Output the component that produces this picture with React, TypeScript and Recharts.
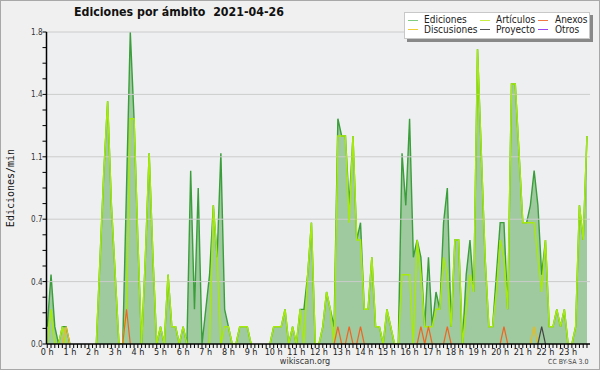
import React from 'react';
import { ComposedChart, Area, Line, XAxis, YAxis, CartesianGrid, ReferenceLine } from 'recharts';

// 10-minute slots of the day (0 = 00:00 ... 143 = 23:50), values in edits per minute
const ediciones = [
  0.1, 0.4, 0.1, 0, 0.1, 0.1, 0, 0, 0, 0, 0, 0,
  0, 0, 0.5, 1.0, 1.4, 0.8, 0.4, 0, 0, 0.9, 1.8, 1.3,
  0.6, 0, 0.5, 1.1, 0.5, 0, 0.1, 0, 0.4, 0.1, 0.1, 0,
  0.1, 0, 1.0, 0.2, 0.9, 0, 0.2, 0.4, 0.8, 0.5, 1.1, 0.2,
  0.1, 0, 0, 0.1, 0.1, 0.1, 0, 0, 0, 0, 0, 0,
  0.1, 0.1, 0.1, 0.2, 0, 0.1, 0, 0.2, 0.2, 0.4, 0.7, 0,
  0, 0.1, 0.3, 0.2, 0.1, 1.3, 1.2, 1.2, 0.8, 1.2, 0.6, 0.7,
  0.2, 0.2, 0.5, 0.1, 0.1, 0, 0.2, 0.1, 0, 0, 1.1, 0.8,
  1.3, 0.5, 0.6, 0.5, 0.1, 0.5, 0.1, 0.3, 0.2, 0.7, 0.9, 0.1,
  0.6, 0.6, 0, 0.4, 0.6, 0.3, 1.7, 1.1, 0.5, 0.1, 0.1, 0.4,
  0.7, 0.7, 0.2, 1.5, 1.5, 1.1, 0.7, 0.7, 0.8, 1.0, 0.8, 0.4,
  0.6, 0.1, 0.1, 0.2, 0.1, 0.2, 0, 0, 0.1, 0.8, 0.6, 1.2,
];
const articulos = [
  0, 0.2, 0, 0, 0.1, 0, 0, 0, 0, 0, 0, 0,
  0, 0, 0.5, 1.0, 1.4, 0.8, 0.4, 0, 0, 0.2, 1.3, 1.3,
  0.6, 0, 0.5, 1.1, 0.5, 0, 0.1, 0, 0.4, 0.1, 0.1, 0,
  0.1, 0, 0, 0, 0, 0, 0, 0, 0.8, 0.5, 0, 0.1,
  0.1, 0, 0, 0.1, 0.1, 0.1, 0, 0, 0, 0, 0, 0,
  0.1, 0.1, 0.1, 0.2, 0, 0.1, 0, 0.2, 0, 0.4, 0.7, 0,
  0, 0.1, 0.3, 0.2, 0, 1.2, 1.2, 1.2, 0.7, 1.2, 0.6, 0.6,
  0.2, 0.2, 0.5, 0.1, 0.1, 0, 0.2, 0.1, 0, 0, 0.4, 0.4,
  0.4, 0, 0.6, 0.4, 0.1, 0.1, 0.1, 0.2, 0.2, 0.5, 0.4, 0.1,
  0.6, 0.6, 0, 0.2, 0.4, 0.3, 1.7, 1.1, 0.5, 0.1, 0.1, 0.3,
  0.6, 0.5, 0.2, 1.5, 1.5, 1.1, 0.7, 0.7, 0.7, 0.7, 0.5, 0.3,
  0.6, 0.1, 0.1, 0.2, 0.1, 0.2, 0, 0, 0.1, 0.8, 0.6, 1.2,
];
const anexos = [
  0, 0, 0, 0, 0, 0, 0, 0, 0, 0, 0, 0,
  0, 0, 0, 0, 0, 0, 0, 0, 0, 0.2, 0, 0,
  0, 0, 0, 0, 0, 0, 0, 0, 0, 0, 0, 0,
  0, 0, 0, 0, 0, 0, 0, 0, 0, 0, 0, 0,
  0, 0, 0, 0, 0, 0, 0, 0, 0, 0, 0, 0,
  0, 0, 0, 0, 0, 0, 0, 0, 0, 0, 0, 0,
  0, 0, 0, 0, 0, 0.1, 0, 0, 0.1, 0, 0, 0.1,
  0, 0, 0, 0, 0, 0, 0, 0, 0, 0, 0, 0,
  0, 0, 0, 0.1, 0, 0.1, 0, 0, 0, 0, 0.1, 0,
  0, 0, 0, 0, 0, 0, 0, 0, 0, 0, 0, 0,
  0, 0.1, 0, 0, 0, 0, 0, 0, 0, 0, 0, 0,
  0, 0, 0, 0, 0, 0, 0, 0, 0, 0, 0, 0,
];
const discusiones = [
  0, 0, 0, 0, 0, 0.1, 0, 0, 0, 0, 0, 0,
  0, 0, 0, 0, 0, 0, 0, 0, 0, 0, 0, 0,
  0, 0, 0, 0, 0, 0, 0, 0, 0, 0, 0, 0,
  0, 0, 0, 0, 0, 0, 0, 0, 0, 0, 0, 0,
  0, 0, 0, 0, 0, 0, 0, 0, 0, 0, 0, 0,
  0, 0, 0, 0, 0, 0, 0, 0, 0, 0, 0, 0,
  0, 0, 0, 0, 0, 0, 0, 0, 0, 0, 0, 0,
  0, 0, 0, 0, 0, 0, 0, 0, 0, 0, 0, 0,
  0, 0, 0, 0, 0, 0, 0, 0, 0, 0, 0, 0,
  0, 0, 0, 0, 0, 0, 0, 0, 0, 0, 0, 0,
  0, 0, 0, 0, 0, 0, 0, 0, 0, 0.1, 0, 0,
  0, 0, 0, 0, 0, 0, 0, 0, 0, 0, 0, 0,
];
const proyecto = [
  0, 0, 0, 0, 0, 0, 0, 0, 0, 0, 0, 0,
  0, 0, 0, 0, 0, 0, 0, 0, 0, 0, 0, 0,
  0, 0, 0, 0, 0, 0, 0, 0, 0, 0, 0, 0,
  0, 0, 0, 0, 0, 0, 0, 0, 0, 0, 0, 0,
  0, 0, 0, 0, 0, 0, 0, 0, 0, 0, 0, 0,
  0, 0, 0, 0, 0, 0, 0, 0, 0, 0, 0, 0,
  0, 0, 0, 0, 0, 0, 0, 0, 0, 0, 0, 0,
  0, 0, 0, 0, 0, 0, 0, 0, 0, 0, 0, 0,
  0, 0, 0, 0, 0, 0, 0, 0, 0, 0, 0, 0,
  0, 0, 0, 0, 0, 0, 0, 0, 0, 0, 0, 0,
  0, 0, 0, 0, 0, 0, 0, 0, 0, 0, 0, 0.1,
  0, 0, 0, 0, 0, 0, 0, 0, 0, 0, 0, 0,
];
const otros: number[] = ediciones.map(() => 0);

const hourLabels = [
  '0 h', '1 h', '2 h', '3 h', '4 h', '5 h', '6 h', '7 h', '8 h', '9 h', '10 h', '11 h',
  '12 h', '13 h', '14 h', '15 h', '16 h', '17 h', '18 h', '19 h', '20 h', '21 h', '22 h', '23 h',
];
const yMajorTicks = [0, 0.36, 0.72, 1.08, 1.44, 1.8];
const yTickLabels = ['0.0', '0.4', '0.7', '1.1', '1.4', '1.8'];

const title = 'Ediciones por ámbito  2021-04-26';
const yLabel = 'Ediciones/min';

const legendItems = [
  { name: 'Ediciones', color: '#7fcb7f', col: 0, row: 0 },
  { name: 'Artículos', color: '#c8ee44', col: 1, row: 0 },
  { name: 'Anexos', color: '#ee7744', col: 2, row: 0 },
  { name: 'Discusiones', color: '#eecc33', col: 0, row: 1 },
  { name: 'Proyecto', color: '#555555', col: 1, row: 1 },
  { name: 'Otros', color: '#9944ee', col: 2, row: 1 },
];

// hide long runs of zeros so flat zero segments don't paint over the baseline
const mask = (arr: number[]) =>
  arr.map((v, i) =>
    v === 0 && (i === 0 || arr[i - 1] === 0) && (i === arr.length - 1 || arr[i + 1] === 0) ? null : v
  );

const mE = mask(ediciones);
const mA = mask(articulos);
const mAn = mask(anexos);
const mD = mask(discusiones);
const mP = mask(proyecto);
const mO = mask(otros);

const data = ediciones.map((_, i) => ({
  slot: i,
  e: mE[i],
  a: mA[i],
  an: mAn[i],
  d: mD[i],
  p: mP[i],
  o: mO[i],
}));

const xTicks = data.map((d) => d.slot);

const yTicks: number[] = [];
for (let k = 0; k < yMajorTicks.length - 1; k++) {
  const a = yMajorTicks[k];
  const b = yMajorTicks[k + 1];
  for (let j = 0; j < 4; j++) yTicks.push(+(a + ((b - a) * j) / 4).toFixed(4));
}
yTicks.push(yMajorTicks[yMajorTicks.length - 1]);

const XTick = (props: any) => {
  const { x, y, payload } = props;
  const v = payload.value;
  if (v % 6 !== 0) return <g />;
  return (
    <text x={x} y={y + 7} textAnchor="middle" fontSize={9} fill="#222" fontFamily="DejaVu Sans Condensed, DejaVu Sans, sans-serif">
      {hourLabels[v / 6]}
    </text>
  );
};

const YTick = (props: any) => {
  const { x, y, index } = props;
  if (index % 4 !== 0) return <g />;
  return (
    <text x={x} y={y + 3} textAnchor="end" fontSize={8} fill="#333" fontFamily="DejaVu Sans Condensed, DejaVu Sans, sans-serif">
      {yTickLabels[index / 4]}
    </text>
  );
};

export default function App() {
  return (
    <div style={{ position: 'absolute', left: 0, top: 0, width: 600, height: 370, background: '#f0f0f0', overflow: 'hidden' }}>
      <ComposedChart width={600} height={370} data={data} margin={{ top: 32, right: 10, bottom: 0, left: 0 }}>
        <CartesianGrid fill="#edeff1" horizontal={false} vertical={false} stroke="none" />
        {yMajorTicks.slice(1).map((t) => (
          <ReferenceLine key={t} y={t} stroke="#cccccc" strokeWidth={1} ifOverflow="extendDomain" />
        ))}
        <Area type="linear" dataKey="e" stroke="#3a9e3a" strokeWidth={1.4} fill="#9fc99f" fillOpacity={1} dot={false} activeDot={false} isAnimationActive={false} />
        <Line type="linear" dataKey="a" stroke="#a6ea0a" strokeWidth={1.5} dot={false} activeDot={false} isAnimationActive={false} />
        <Line type="linear" dataKey="d" stroke="#eebb11" strokeWidth={1.2} dot={false} activeDot={false} isAnimationActive={false} />
        <Line type="linear" dataKey="p" stroke="#444444" strokeWidth={1.2} dot={false} activeDot={false} isAnimationActive={false} />
        <Line type="linear" dataKey="an" stroke="#ee6622" strokeWidth={1.2} dot={false} activeDot={false} isAnimationActive={false} />
        <Line type="linear" dataKey="o" stroke="#9944ee" strokeWidth={1.2} dot={false} activeDot={false} isAnimationActive={false} />
        <XAxis
          dataKey="slot"
          type="number"
          domain={[-0.2, 143.8]}
          ticks={xTicks}
          interval={0}
          height={26}
          tickSize={4}
          tickMargin={0}
          axisLine={{ stroke: '#000', strokeWidth: 1.5 }}
          tickLine={{ stroke: '#000' }}
          tick={<XTick />}
          allowDataOverflow
        />
        <YAxis
          type="number"
          domain={[0, 1.8]}
          ticks={yTicks}
          interval={0}
          width={46.5}
          tickSize={4}
          tickMargin={0}
          axisLine={{ stroke: '#000', strokeWidth: 1.5 }}
          tickLine={{ stroke: '#000' }}
          tick={<YTick />}
          allowDataOverflow
        />
      </ComposedChart>

      <div style={{ position: 'absolute', left: 74, top: 5, fontFamily: 'DejaVu Sans Condensed, DejaVu Sans, sans-serif', fontWeight: 'bold', fontSize: 12.3, color: '#111', whiteSpace: 'pre' }}>
        {title}
      </div>

      <div style={{ position: 'absolute', left: 3, top: 188, width: 0, height: 0 }}>
        <div style={{ position: 'absolute', transform: 'translate(-50%, -50%) rotate(-90deg)', left: 7, top: 0, fontFamily: 'DejaVu Sans Mono, monospace', fontSize: 10, color: '#111', whiteSpace: 'nowrap' }}>
          {yLabel}
        </div>
      </div>

      <div style={{ position: 'absolute', left: 407, top: 15, width: 186, height: 27, background: '#888' }} />
      <div style={{ position: 'absolute', left: 404, top: 12, width: 186, height: 27, background: '#fff', border: '1px solid #c8c8c8', boxSizing: 'border-box' }} />
      {legendItems.map((it) => {
        const colX = [408, 480, 538][it.col];
        const textX = [424, 496, 555][it.col];
        const rowY = [20, 29][it.row];
        const textTop = [15, 25][it.row];
        return (
          <React.Fragment key={it.name}>
            <div style={{ position: 'absolute', left: colX, top: rowY, width: 10, height: 1, background: it.color }} />
            <div style={{ position: 'absolute', left: textX, top: textTop, fontFamily: 'DejaVu Sans Condensed, DejaVu Sans, sans-serif', fontSize: 10, lineHeight: '9px', height: 9, color: '#222', whiteSpace: 'nowrap' }}>
              {it.name}
            </div>
          </React.Fragment>
        );
      })}

      <div style={{ position: 'absolute', left: 305, top: 356, transform: 'translateX(-50%)', fontFamily: 'DejaVu Sans Condensed, DejaVu Sans, sans-serif', fontSize: 9, lineHeight: '11px', color: '#333' }}>
        wikiscan.org
      </div>
      <div style={{ position: 'absolute', left: 548, top: 358, fontFamily: 'DejaVu Sans Condensed, DejaVu Sans, sans-serif', fontSize: 7, lineHeight: '9px', color: '#444', whiteSpace: 'nowrap' }}>
        CC BY-SA 3.0
      </div>
      <div style={{ position: 'absolute', left: 0, top: 0, width: 600, height: 370, border: '1px solid #a8a8a8', boxSizing: 'border-box', pointerEvents: 'none' }} />
    </div>
  );
}
